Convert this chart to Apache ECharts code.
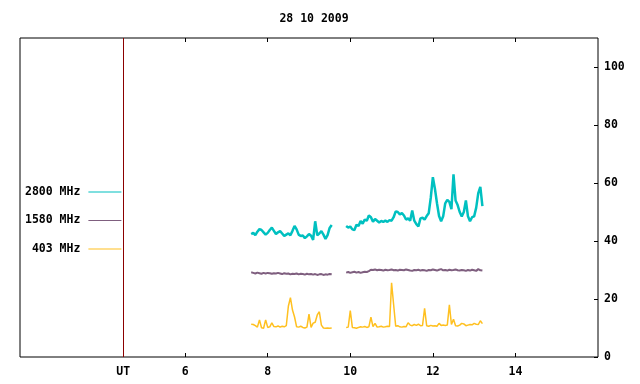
<!DOCTYPE html>
<html>
<head>
<meta charset="utf-8">
<script src="https://cdn.jsdelivr.net/npm/echarts@6/dist/echarts.min.js"></script>
<style>
  html, body { margin: 0; padding: 0; background: #fff; }
  #chart { width: 640px; height: 384px; }
</style>
</head>
<body>
<div id="chart"></div>
<script>
// time grid (UT hours): two recording blocks sampled every 0.05 h
var seg1Start = 7.60;
var seg2Start = 9.90;
var step = 0.05;
var gapTime = 9.72;

var xTicks = [6, 8, 10, 12, 14];
var yTicks = [0, 20, 40, 60, 80, 100];
var utPos = 4.5;

var names = ['2800 MHz', '1580 MHz', '403 MHz'];
var colors = ['#00c0c0', '#7f5f7f', '#ffc020'];

// 2800 MHz
var f2800a = [42.4, 42.8, 42.0, 43.2, 44.1, 43.8, 43.0, 42.2, 42.8, 43.8,
              44.6, 43.5, 42.4, 43.0, 43.4, 42.6, 41.7, 42.2, 42.6, 42.0,
              43.5, 45.2, 44.0, 42.2, 41.7, 41.9, 41.0, 41.6, 42.4, 41.8,
              40.4, 46.8, 42.0, 42.6, 43.4, 42.2, 40.7, 42.0, 44.5, 45.5];
var f2800b = [45.2, 44.6, 45.0, 44.0, 43.8, 45.6, 45.2, 46.9, 46.0, 47.4,
              47.0, 48.8, 48.2, 46.6, 47.6, 47.0, 46.4, 46.9, 46.6, 47.0,
              46.6, 47.2, 47.0, 48.2, 50.2, 50.0, 49.2, 49.6, 48.8, 47.4,
              47.8, 47.0, 50.5, 47.0, 45.8, 45.0, 47.8, 48.0, 47.4, 48.6,
              49.6, 55.0, 62.0, 58.0, 53.0, 48.6, 46.8, 48.5, 53.0, 54.2,
              53.5, 51.0, 63.0, 54.0, 52.4, 50.0, 48.5, 50.0, 54.0, 48.5,
              46.8, 48.2, 48.5, 51.5, 56.5, 58.7, 52.0];

// 1580 MHz
var f1580a = [29.2, 29.0, 28.8, 29.1, 28.9, 28.7, 29.0, 28.8, 29.0, 28.9,
              28.7, 28.9, 28.8, 29.0, 28.8, 28.6, 28.9, 28.7, 28.8, 28.5,
              28.7, 28.6, 28.8, 28.5, 28.7, 28.6, 28.4, 28.7, 28.5, 28.6,
              28.4, 28.6, 28.3, 28.5, 28.6, 28.3, 28.5, 28.4, 28.6, 28.5];
var f1580b = [29.1, 29.3, 29.0, 29.2, 29.4, 29.1, 29.3, 29.0, 29.2, 29.4,
              29.3, 29.6, 30.1, 30.0, 30.2, 29.9, 30.1, 30.0, 29.8, 30.1,
              29.9, 30.0, 30.2, 29.9, 30.0, 29.8, 30.1, 30.0, 29.9, 30.2,
              30.0, 29.8, 29.7, 30.0, 29.9, 30.1, 29.8, 30.0, 29.9, 29.7,
              30.0, 29.9, 30.2, 30.0, 29.8, 30.1, 30.3, 29.9, 30.0, 29.8,
              30.1, 29.9, 30.0, 30.2, 29.9, 29.8, 30.0, 29.9, 29.7, 30.0,
              29.8, 30.1, 29.9, 29.7, 30.3, 29.9, 29.8];

// 403 MHz
var f403a = [11.3, 11.2, 10.8, 10.3, 12.8, 10.1, 9.9, 12.8, 10.2, 10.4,
             11.8, 10.5, 10.4, 10.7, 10.3, 10.6, 10.4, 10.8, 17.5, 20.5,
             16.2, 13.8, 10.4, 10.3, 10.6, 10.2, 10.0, 10.3, 14.8, 10.2,
             11.7, 12.0, 14.5, 15.6, 11.0, 10.0, 9.9, 10.0, 9.9, 10.0];
var f403b = [10.2, 10.3, 16.0, 10.2, 10.1, 9.9, 10.2, 10.4, 10.3, 10.5,
             10.2, 10.4, 13.7, 10.5, 11.6, 10.3, 10.4, 10.6, 10.3, 10.4,
             10.6, 10.5, 25.6, 18.0, 10.6, 10.8, 10.4, 10.3, 10.5, 10.4,
             11.8, 11.0, 10.8, 11.2, 10.9, 11.3, 10.8, 10.9, 16.8, 10.8,
             10.6, 10.9, 10.7, 10.8, 10.6, 11.6, 10.9, 11.0, 10.9, 11.0,
             18.0, 11.2, 13.0, 10.8, 10.7, 11.0, 11.6, 11.4, 10.8, 11.0,
             11.2, 11.1, 11.6, 11.3, 11.2, 12.5, 11.5];

function buildData(a, b) {
    var out = [];
    a.forEach(function (v, i) { out.push([seg1Start + i * step, v]); });
    out.push([gapTime, '-']);
    b.forEach(function (v, i) { out.push([seg2Start + i * step, v]); });
    return out;
}

var font = 'DejaVu Sans Mono';
var chart = echarts.init(document.getElementById('chart'));

var option = {
    animation: false,
    backgroundColor: '#ffffff',
    title: {
        text: '28 10 2009',
        left: 309,
        top: 8,
        textAlign: 'center',
        textStyle: { fontFamily: font, fontSize: 11.5, fontWeight: 'bold', color: '#000' }
    },
    legend: {
        orient: 'vertical',
        left: 20,
        top: 181,
        align: 'right',
        itemGap: 16.5,
        itemWidth: 33,
        itemHeight: 1,
        icon: 'rect',
        data: names,
        formatter: function (n) { return n.padStart(8, ' '); },
        textStyle: {
            fontFamily: font, fontSize: 11.5, fontWeight: 'bold', color: '#000',
            padding: [0, 3, 0, 0]
        }
    },
    grid: {
        left: 20, right: 42, top: 38, bottom: 27,
        show: true, borderColor: '#000', borderWidth: 1
    },
    xAxis: [{
        type: 'value',
        min: 2, max: 16, interval: 2,
        axisLine: { show: false },
        splitLine: { show: false },
        axisTick: { inside: true, length: 4, lineStyle: { color: '#000' }, customValues: xTicks },
        axisLabel: {
            customValues: [utPos].concat(xTicks),
            formatter: function (v) { return v === utPos ? 'UT' : String(v); },
            margin: 9,
            fontFamily: font, fontSize: 11.5, fontWeight: 'bold', color: '#000'
        }
    }, {
        type: 'value',
        position: 'top',
        min: 2, max: 16, interval: 2,
        axisLine: { show: false },
        splitLine: { show: false },
        axisTick: { inside: true, length: 4, lineStyle: { color: '#000' }, customValues: xTicks },
        axisLabel: { show: false }
    }],
    yAxis: {
        type: 'value',
        position: 'right',
        min: 0, max: 110, interval: 20,
        axisLine: { show: false },
        splitLine: { show: false },
        axisTick: { inside: true, length: 4, lineStyle: { color: '#000' }, customValues: yTicks },
        axisLabel: {
            customValues: yTicks,
            margin: 6,
            fontFamily: font, fontSize: 11.5, fontWeight: 'bold', color: '#000'
        }
    },
    series: [
        {
            name: names[0], type: 'line', showSymbol: false, connectNulls: false,
            color: colors[0], lineStyle: { width: 2.5 },
            data: buildData(f2800a, f2800b),
            markLine: {
                silent: true, symbol: 'none', label: { show: false },
                lineStyle: { color: '#8b0000', width: 1, type: 'solid' },
                data: [{ xAxis: utPos }]
            }
        },
        {
            name: names[1], type: 'line', showSymbol: false, connectNulls: false,
            color: colors[1], lineStyle: { width: 2 },
            data: buildData(f1580a, f1580b)
        },
        {
            name: names[2], type: 'line', showSymbol: false, connectNulls: false,
            color: colors[2], lineStyle: { width: 1.5 },
            data: buildData(f403a, f403b)
        }
    ]
};

chart.setOption(option);
</script>
</body>
</html>
